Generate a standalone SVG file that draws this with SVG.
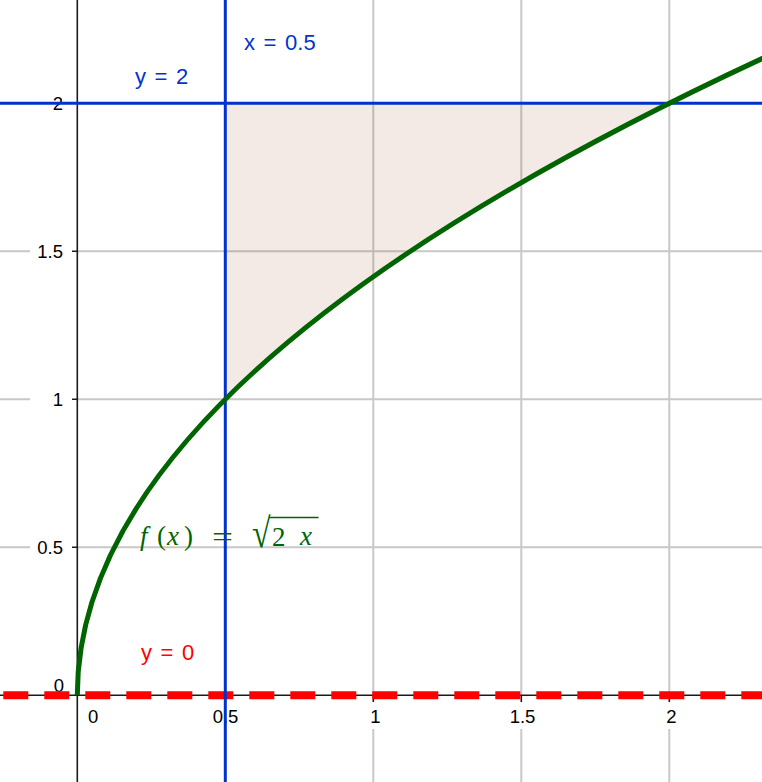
<svg xmlns="http://www.w3.org/2000/svg" width="762" height="782" viewBox="0 0 762 782">
<style>
.grid{stroke:#c8c8c8;stroke-width:2;fill:none}
.axis{stroke:#1a1a1a;stroke-width:1.6;fill:none}
.tick{font-family:"Liberation Sans",Arial,sans-serif;font-size:18.5px;fill:#000}
.lbl{font-family:"Liberation Sans",Arial,sans-serif;font-size:22px;word-spacing:2.5px}
.blue{stroke:#0033cc;stroke-width:3;fill:none}
.math{font-family:"Liberation Serif","Times New Roman",serif;font-size:27px;fill:#006400}
</style>
<rect x="0" y="0" width="762" height="782" fill="#ffffff"/>
<g id="grid">
<path class="grid" d="M373.3,0V695M373.3,729V782M521.3,0V695M521.3,729V782M669.3,0V695M669.3,729V782"/>
<path class="grid" d="M0,547.3H30M77,547.3H762M0,399.3H30M77,399.3H762M0,251.3H30M77,251.3H762M0,103.3H30M77,103.3H762"/>
</g>
<g id="region">
<path d="M225.3,399.3L225.3,103.3L669.3,103.3Q373.3,251.3 225.3,399.3Z" fill="#a0522d" fill-opacity="0.12"/>
</g>
<g id="axes">
<path class="axis" d="M77.3,0V782M0,695.3H762"/>
<path class="axis" d="M72,547.3H77.3M72,399.3H77.3M72,251.3H77.3M72,103.3H77.3M373.3,695.3V702M521.3,695.3V702M669.3,695.3V702M225.3,695.3V702"/>
</g>
<g id="tick-labels" class="tick">
<text x="63" y="110" text-anchor="end">2</text>
<text x="63" y="258" text-anchor="end">1.5</text>
<text x="63" y="406" text-anchor="end">1</text>
<text x="63" y="554" text-anchor="end">0.5</text>
<text x="64" y="692" text-anchor="end">0</text>
<text x="88" y="723">0</text>
<text x="225.5" y="723" text-anchor="middle">0.5</text>
<text x="375.5" y="723" text-anchor="middle">1</text>
<text x="522.5" y="723" text-anchor="middle">1.5</text>
<text x="671.5" y="723" text-anchor="middle">2</text>
</g>
<g id="connectors">
<g id="line-y0">
<line x1="0" y1="695.3" x2="762" y2="695.3" stroke="#ff0000" stroke-width="8" stroke-dasharray="25 16" stroke-dashoffset="37.7"/>
</g>
<g id="line-x05">
<line class="blue" x1="225.3" y1="0" x2="225.3" y2="782"/>
</g>
<g id="line-y2">
<line class="blue" x1="0" y1="103.3" x2="762" y2="103.3"/>
</g>
<g id="curve-f">
<path d="M77.3,695.3Q77.3,369.7 793.6,44.1" fill="none" stroke="#006400" stroke-width="5"/>
</g>
</g>
<g id="labels">
<text class="lbl" x="244" y="50" fill="#0033cc">x = 0.5</text>
<text class="lbl" x="135" y="84" fill="#0033cc">y = 2</text>
<text class="lbl" x="141" y="660" fill="#ff0000">y = 0</text>
</g>
<g id="formula">
<text class="math" x="140" y="545" font-style="italic">f</text>
<text class="math" x="157" y="545" font-size="30">(</text>
<text class="math" x="167" y="545" font-style="italic">x</text>
<text class="math" x="184" y="545" font-size="30">)</text>
<text class="math" x="212" y="546" font-size="30" textLength="21" lengthAdjust="spacingAndGlyphs">=</text>
<text class="math" transform="translate(252,547) scale(1.25,1.55)" x="0" y="0" font-size="34">√</text>
<line x1="269" y1="517.5" x2="318.5" y2="517.5" stroke="#006400" stroke-width="1.6"/>
<text class="math" x="272" y="546">2</text>
<text class="math" x="300" y="545" font-style="italic">x</text>
</g>
</svg>
